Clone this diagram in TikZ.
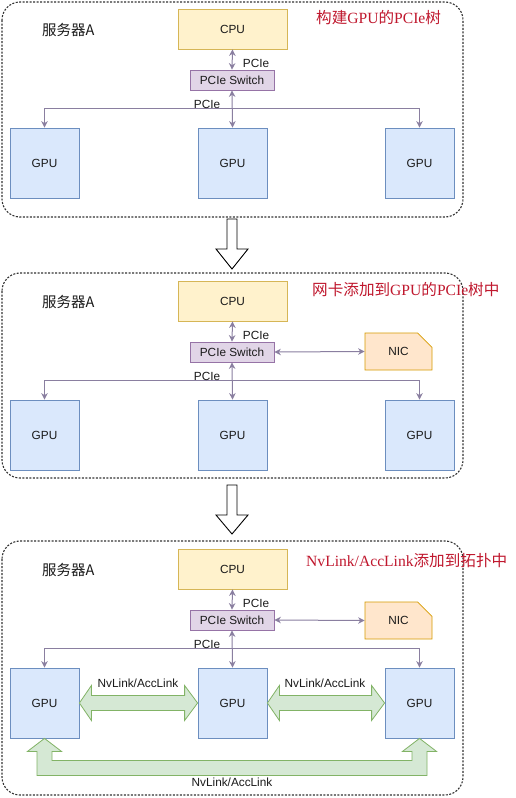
\documentclass[tikz,border=0pt]{standalone}
\usepackage{fontspec}
\setmainfont{Liberation Serif}
\setsansfont{Liberation Sans}
\newfontfamily\cjk{Noto Sans CJK SC}
\usetikzlibrary{arrows.meta,calc,shapes.misc}
\definecolor{cpuF}{HTML}{FFF2CC}\definecolor{cpuD}{HTML}{D6B656}
\definecolor{swF}{HTML}{E1D5E7}\definecolor{swD}{HTML}{9673A6}
\definecolor{gpuF}{HTML}{DAE8FC}\definecolor{gpuD}{HTML}{6C8EBF}
\definecolor{nicF}{HTML}{FFE6CC}\definecolor{nicD}{HTML}{D79B00}
\definecolor{nvF}{HTML}{D5E8D4}\definecolor{nvD}{HTML}{82B366}
\definecolor{linkC}{HTML}{8A7FA0}
\definecolor{txt}{HTML}{1A1A1A}
\definecolor{ttlred}{HTML}{C0182E}
\definecolor{panelC}{HTML}{333333}
\tikzset{
  box/.style={draw, line width=0.8pt, inner sep=0pt, text=txt,
    font=\sffamily\fontsize{11.8}{12}\selectfont},
  cpubox/.style={box, fill=cpuF, draw=cpuD, minimum width=109pt, minimum height=40pt},
  swbox/.style={box, fill=swF, draw=swD, minimum width=84pt, minimum height=20pt},
  gpubox/.style={box, fill=gpuF, draw=gpuD, minimum width=69pt, minimum height=70pt},
  nicbox/.style={box, fill=nicF, draw=nicD, minimum width=67pt, minimum height=37pt,
    chamfered rectangle, chamfered rectangle corners=north east,
    chamfered rectangle xsep=17pt, chamfered rectangle ysep=17pt},
  link/.style={draw=linkC, line width=1pt, {Stealth[length=6.5pt,width=6.5pt]}-{Stealth[length=6.5pt,width=6.5pt]}},
  lbl/.style={inner sep=1pt, text=txt, font=\sffamily\fontsize{11.8}{12}\selectfont},
  srvlbl/.style={anchor=west, inner sep=0pt, text=txt, font=\cjk\fontsize{14.5}{15}\selectfont},
  ttl/.style={anchor=west, inner sep=0pt, text=ttlred, font=\rmfamily\fontsize{15.6}{16}\selectfont},
  panel/.style={draw=panelC, line width=1.1pt, dash pattern=on 2pt off 1.5pt, rounded corners=18pt},
  hollow/.style={draw=black, line width=0.9pt, fill=white},
  nvl/.style={draw=nvD, line width=0.8pt, fill=nvF},
}
\newcommand\srvpanel[2]{%
  \begin{scope}[shift={(0,#2)}]
    \node[cpubox] (#1cpu) at (232.5,29) {CPU};
    \node[swbox] (#1sw) at (232,80) {PCIe Switch};
    \node[gpubox] (#1gL) at (44.5,163) {GPU};
    \node[gpubox] (#1gM) at (232.5,163) {GPU};
    \node[gpubox] (#1gR) at (419.5,163) {GPU};
    \node[srvlbl] (#1srv) at (42,30) {服务器A};
    \draw[link] (#1cpu.south) -- (#1sw.north);
    \node[lbl] (#1l1) at (256,63) {PCIe};
    \draw[link] (#1sw.south) -- (#1gM.north);
    \draw[link] (#1gL.north) -- ++(0,-19) -| (#1gR.north);
    \node[lbl] (#1l2) at (207,104) {PCIe};
  \end{scope}}
\begin{document}
\begin{tikzpicture}[x=1pt,y=-1pt]
\useasboundingbox (0,0) rectangle (515,798);
\fill[white] (0,0) rectangle (515,798);
% panels
\draw[panel] (2,2) rectangle (463,217);
\draw[panel] (2,273) rectangle (463,478);
\draw[panel] (2,541) rectangle (463,795);
% transition arrows
\draw[hollow] (227,219) -- (237,219) -- (237,249) -- (248,249) -- (232,269) -- (216,249) -- (227,249) -- cycle;
\draw[hollow] (227,485) -- (237,485) -- (237,515) -- (248,515) -- (232,534) -- (216,515) -- (227,515) -- cycle;
% common content
\srvpanel{a}{0}
\srvpanel{b}{272}
\srvpanel{c}{540}
% titles
\node[ttl] (t1) at (316,18) {{\cjk 构建}GPU{\cjk 的}PCIe{\cjk 树}};
\node[ttl] (t2) at (312,290) {{\cjk 网卡添加到}GPU{\cjk 的}PCIe{\cjk 树中}};
\node[ttl] (t3) at (306,561) {NvLink/AccLink{\cjk 添加到拓扑中}};
% NICs
\node[nicbox] (bnic) at (398.5,351.5) {NIC};
\draw[link] (bsw.east) -- (bnic.west);
\node[nicbox] (cnic) at (398.5,620.5) {NIC};
\draw[link] (csw.east) -- (cnic.west);
% NvLink arrows
\filldraw[nvl] (cgL.east) -- ++(12,-17.5) -- ++(0,10) -- ($(cgM.west)+(-13,-7.5)$) -- ++(0,-10) -- (cgM.west) -- ++(-13,17.5) -- ++(0,-10) -- ($(cgL.east)+(12,7.5)$) -- ++(0,10) -- cycle;
\filldraw[nvl] (cgM.east) -- ++(12,-17.5) -- ++(0,10) -- ($(cgR.west)+(-13,-7.5)$) -- ++(0,-10) -- (cgR.west) -- ++(-13,17.5) -- ++(0,-10) -- ($(cgM.east)+(12,7.5)$) -- ++(0,10) -- cycle;
\filldraw[nvl] (cgL.south) -- ++(17,13) -- ++(-9.5,0) -- ++(0,9) -- ($(cgR.south)+(-7.5,22)$) -- ++(0,-9) -- ++(-9.5,0) -- (cgR.south) -- ++(17,13) -- ++(-9.5,0) -- ($(cgR.south)+(7.5,37)$) -- ($(cgL.south)+(-7.5,37)$) -- ++(0,-24) -- ++(-9.5,0) -- cycle;
\node[lbl] (nv1) at (138,683) {NvLink/AccLink};
\node[lbl] (nv2) at (325,683) {NvLink/AccLink};
\node[lbl] (nv3) at (232,782) {NvLink/AccLink};
\end{tikzpicture}
\end{document}
